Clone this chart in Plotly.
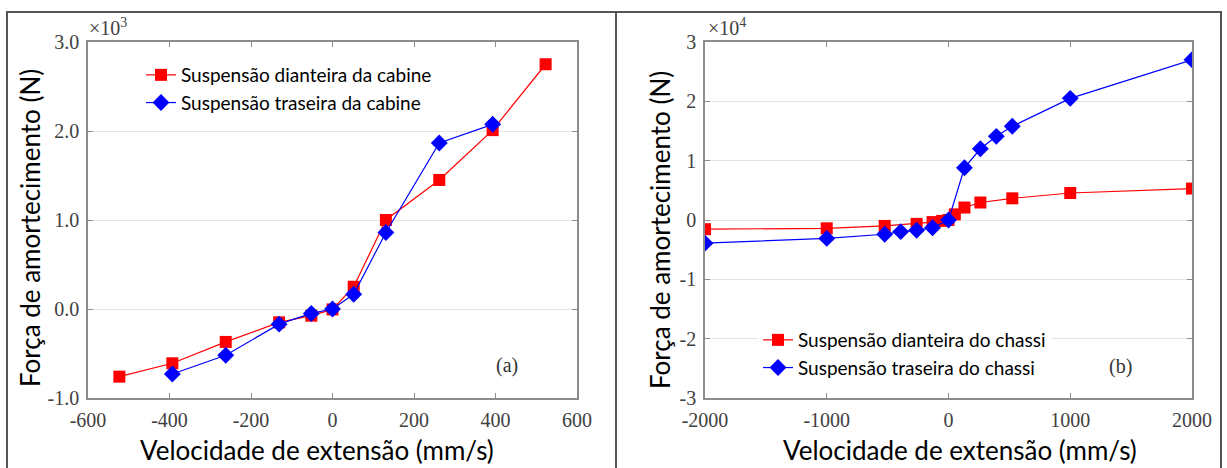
import plotly.graph_objects as go

# ---------------- data ----------------
# Panel (a): cabin suspension, force in x10^3 N
vel_a_front = [-523, -393, -262, -131, -52, 0, 52, 131, 262, 393, 523]
force_a_front = [-0.76, -0.61, -0.37, -0.15, -0.075, -0.005, 0.25, 1.0, 1.45, 2.01, 2.75]
vel_a_rear = [-393, -262, -131, -52, 0, 52, 131, 262, 393]
force_a_rear = [-0.73, -0.52, -0.17, -0.05, 0.0, 0.165, 0.86, 1.865, 2.075]

# Panel (b): chassis suspension, force in x10^4 N
vel_b_front = [-2000, -1000, -524, -262, -131, -52, 0, 52, 131, 262, 524, 1000, 2000]
force_b_front = [-0.155, -0.14, -0.10, -0.065, -0.035, -0.015, 0.0, 0.095, 0.21, 0.295, 0.365, 0.455, 0.53]
vel_b_rear = [-2000, -1000, -524, -393, -262, -131, 0, 131, 262, 393, 524, 1000, 2000]
force_b_rear = [-0.39, -0.31, -0.24, -0.196, -0.174, -0.13, 0.0, 0.88, 1.2, 1.41, 1.58, 2.05, 2.7]

names_a = ["Suspensão dianteira da cabine", "Suspensão traseira da cabine"]
names_b = ["Suspensão dianteira do chassi", "Suspensão traseira do chassi"]

xticks_a = [-600, -400, -200, 0, 200, 400, 600]
xticklabels_a = ["-600", "-400", "-200", "0", "200", "400", "600"]
yticks_a = [-1, 0, 1, 2, 3]
yticklabels_a = ["-1.0", "0.0", "1.0", "2.0", "3.0"]
xticks_b = [-2000, -1000, 0, 1000, 2000]
xticklabels_b = ["-2000", "-1000", "0", "1000", "2000"]
yticks_b = [-3, -2, -1, 0, 1, 2, 3]
yticklabels_b = ["-3", "-2", "-1", "0", "1", "2", "3"]

x_title = "Velocidade de extensão (mm/s)"
y_title = "Força de amortecimento (N)"

# ---------------- layout helpers ----------------
W, H = 1227, 468
def px(x):
    return x / W
def py(y):
    return 1 - y / H

RED = "#ff0000"
BLUE = "#0000ff"
SERIF = "Liberation Serif"
SANS = "Lato"
TICKCOL = "#404040"
BOXCOL = "#8c8c8c"
GRIDCOL = "#e3e3e3"

fig = go.Figure()

fig.add_trace(go.Scatter(x=vel_a_front, y=force_a_front, name=names_a[0], mode="lines+markers",
                         line=dict(color=RED, width=1.2), marker=dict(symbol="square", size=12, color=RED),
                         xaxis="x", yaxis="y", legend="legend"))
fig.add_trace(go.Scatter(x=vel_a_rear, y=force_a_rear, name=names_a[1], mode="lines+markers",
                         line=dict(color=BLUE, width=1.2), marker=dict(symbol="diamond", size=13, color=BLUE),
                         xaxis="x", yaxis="y", legend="legend"))
fig.add_trace(go.Scatter(x=vel_b_front, y=force_b_front, name=names_b[0], mode="lines+markers",
                         line=dict(color=RED, width=1.2), marker=dict(symbol="square", size=12, color=RED),
                         xaxis="x2", yaxis="y2", legend="legend2"))
fig.add_trace(go.Scatter(x=vel_b_rear, y=force_b_rear, name=names_b[1], mode="lines+markers",
                         line=dict(color=BLUE, width=1.2), marker=dict(symbol="diamond", size=13, color=BLUE),
                         xaxis="x2", yaxis="y2", legend="legend2"))

common = dict(ticks="inside", ticklen=5, tickcolor=BOXCOL, showline=True, linecolor=BOXCOL, linewidth=1.5,
              mirror="ticks", zeroline=False, automargin=False,
              tickfont=dict(family=SERIF, size=20, color=TICKCOL))

ydom = [py(398), py(42)]
fig.update_layout(
    width=W, height=H, autosize=False,
    margin=dict(l=0, r=0, t=0, b=0, autoexpand=False),
    paper_bgcolor="white", plot_bgcolor="white",
    showlegend=True,
    xaxis=dict(domain=[px(88), px(577)], range=[-600, 600], tickvals=xticks_a, ticktext=xticklabels_a,
               showgrid=False, anchor="y", ticklabelstandoff=3, **common),
    yaxis=dict(domain=ydom, range=[-1, 3], tickvals=yticks_a, ticktext=yticklabels_a,
               showgrid=True, gridcolor=GRIDCOL, gridwidth=1, anchor="x", ticklabelstandoff=3, **common),
    xaxis2=dict(domain=[px(705), px(1192)], range=[-2000, 2000], tickvals=xticks_b, ticktext=xticklabels_b,
                showgrid=False, anchor="y2", ticklabelstandoff=3, **common),
    yaxis2=dict(domain=ydom, range=[-3, 3], tickvals=yticks_b, ticktext=yticklabels_b,
                showgrid=True, gridcolor=GRIDCOL, gridwidth=1, anchor="x2", ticklabelstandoff=3, **common),
    legend=dict(x=px(141), y=py(56), xanchor="left", yanchor="top", bgcolor="rgba(255,255,255,0)",
                font=dict(family=SANS, size=19, color="black"), tracegroupgap=0, itemwidth=30),
    legend2=dict(x=px(758), y=py(321), xanchor="left", yanchor="top", bgcolor="white",
                 font=dict(family=SANS, size=19, color="black"), tracegroupgap=0, itemwidth=30),
)

annotations = [
    dict(text=x_title, x=px(317), y=py(450), xref="paper", yref="paper", showarrow=False,
         font=dict(family=SANS, size=26, color="black"), xanchor="center", yanchor="middle"),
    dict(text=x_title, x=px(960), y=py(450), xref="paper", yref="paper", showarrow=False,
         font=dict(family=SANS, size=26, color="black"), xanchor="center", yanchor="middle"),
    dict(text=y_title, x=px(30), y=py(228), xref="paper", yref="paper", showarrow=False, textangle=-90,
         font=dict(family=SANS, size=26, color="black"), xanchor="center", yanchor="middle"),
    dict(text=y_title, x=px(660), y=py(230), xref="paper", yref="paper", showarrow=False, textangle=-90,
         font=dict(family=SANS, size=26, color="black"), xanchor="center", yanchor="middle"),
    dict(text="×10<sup>3</sup>", x=px(87), y=py(41), xref="paper", yref="paper", showarrow=False,
         font=dict(family=SERIF, size=20, color=TICKCOL), xanchor="left", yanchor="bottom"),
    dict(text="×10<sup>4</sup>", x=px(706), y=py(41), xref="paper", yref="paper", showarrow=False,
         font=dict(family=SERIF, size=20, color=TICKCOL), xanchor="left", yanchor="bottom"),
    dict(text="(a)", x=px(507), y=py(365), xref="paper", yref="paper", showarrow=False,
         font=dict(family=SERIF, size=20, color="#333333"), xanchor="center", yanchor="middle"),
    dict(text="(b)", x=px(1120), y=py(366), xref="paper", yref="paper", showarrow=False,
         font=dict(family=SERIF, size=20, color="#333333"), xanchor="center", yanchor="middle"),
]
fig.update_layout(annotations=annotations)

shapes = [
    dict(type="rect", xref="paper", yref="paper", x0=px(7), x1=px(616), y0=-0.05, y1=py(12),
         line=dict(color="#555555", width=2), fillcolor="rgba(0,0,0,0)", layer="above"),
    dict(type="rect", xref="paper", yref="paper", x0=px(616), x1=px(1221), y0=-0.05, y1=py(12),
         line=dict(color="#555555", width=2), fillcolor="rgba(0,0,0,0)", layer="above"),
]
fig.update_layout(shapes=shapes)

fig.write_html("out.html")
